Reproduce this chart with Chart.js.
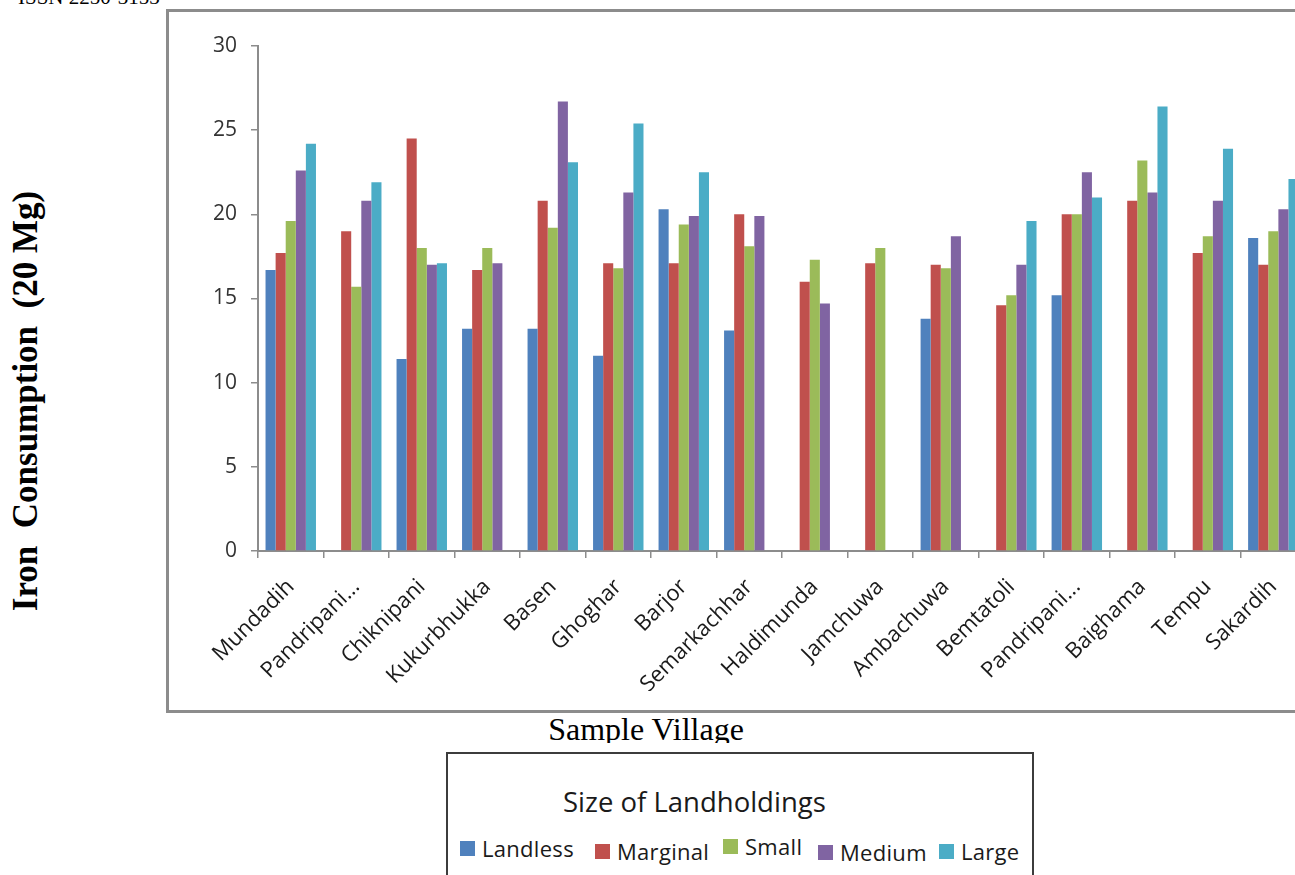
<!DOCTYPE html>
<html>
<head>
<meta charset="utf-8">
<script src="https://cdn.jsdelivr.net/npm/chart.js@4.4.1/dist/chart.umd.min.js"></script>
<style>
  html, body { margin: 0; padding: 0; background: #fff; }
  body { width: 1295px; height: 875px; overflow: hidden; position: relative; }
  #issn { position: absolute; left: 18px; top: -15px; font: 21px "Liberation Serif", serif; color: #000; }
  #frame { position: absolute; left: 166px; top: 9px; width: 1200px; height: 698px; border: 3px solid #8c8c8c; }
  #chartWrap { position: absolute; left: 170px; top: 16px; width: 1138px; height: 675px; }
  #yTitle { position: absolute; left: 26px; top: 401px; transform: translate(-50%, -50%) rotate(-90deg);
            font: bold 35px "Liberation Serif", serif; white-space: pre; color: #000; }
  #xTitle { position: absolute; left: 536px; top: 711px; width: 220px; height: 32px; overflow: hidden;
            font: 32px/36px "Liberation Serif", serif; color: #000; white-space: nowrap; text-align: center; }
  #legendBox { position: absolute; left: 446px; top: 752px; width: 584px; height: 200px; border: 2px solid #3c3c3c; }
  #legendTitle { position: absolute; left: 115px; top: 29px; white-space: nowrap;
                 font: 27.5px "Open Sans", sans-serif; color: #1a1a1a; }
  .item { position: absolute; display: flex; align-items: center; font: 22px "Open Sans", sans-serif;
          letter-spacing: 0.3px; color: #1a1a1a; white-space: nowrap; }
  .item span.sw { width: 15px; height: 15px; margin-right: 7px; display: inline-block; }
</style>
</head>
<body>
<div id="issn">ISSN 2250-3153</div>
<div id="frame"></div>
<div id="chartWrap"><canvas id="ironChart" width="1138" height="675"></canvas></div>
<div id="yTitle">Iron  Consumption  (20 Mg)</div>
<div id="xTitle">Sample Village</div>
<div id="legendBox"><div id="legendTitle">Size of Landholdings</div></div>

<script>
const villages = ['Mundadih', 'Pandripani...', 'Chiknipani', 'Kukurbhukka', 'Basen', 'Ghoghar', 'Barjor',
    'Semarkachhar', 'Haldimunda', 'Jamchuwa', 'Ambachuwa', 'Bemtatoli', 'Pandripani...', 'Baighama', 'Tempu', 'Sakardih'];

const seriesNames = ['Landless', 'Marginal', 'Small', 'Medium', 'Large'];
const seriesColors = ['#4F81BD', '#C0504D', '#9BBB59', '#8064A2', '#4BACC6'];

const landless = [16.7, null, 11.4, 13.2, 13.2, 11.6, 20.3, 13.1, null, null, 13.8, null, 15.2, null, null, 18.6];
const marginal = [17.7, 19.0, 24.5, 16.7, 20.8, 17.1, 17.1, 20.0, 16.0, 17.1, 17.0, 14.6, 20.0, 20.8, 17.7, 17.0];
const small    = [19.6, 15.7, 18.0, 18.0, 19.2, 16.8, 19.4, 18.1, 17.3, 18.0, 16.8, 15.2, 20.0, 23.2, 18.7, 19.0];
const medium   = [22.6, 20.8, 17.0, 17.1, 26.7, 21.3, 19.9, 19.9, 14.7, null, 18.7, 17.0, 22.5, 21.3, 20.8, 20.3];
const large    = [24.2, 21.9, 17.1, null, 23.1, 25.4, 22.5, null, null, null, null, 19.6, 21.0, 26.4, 23.9, 22.1];

const yTicks = [0, 5, 10, 15, 20, 25, 30];

const allSeries = [landless, marginal, small, medium, large];

// legend sits in its own box under the chart frame
const legendX = [12, 147, 275, 370, 491];
const legendDy = [0, 3, -2, 4, 3];
const legendBox = document.getElementById('legendBox');
seriesNames.forEach((name, i) => {
    const el = document.createElement('div');
    el.className = 'item';
    el.style.left = legendX[i] + 'px';
    el.style.top = (79 + legendDy[i]) + 'px';
    el.innerHTML = `<span class="sw" style="background:${seriesColors[i]}"></span>${name}`;
    legendBox.appendChild(el);
});

const axisGrey = '#8c8c8c';

new Chart(document.getElementById('ironChart'), {
    type: 'bar',
    data: {
        labels: villages,
        datasets: allSeries.map((values, i) => ({
            label: seriesNames[i],
            data: values,
            backgroundColor: seriesColors[i],
            borderWidth: 0,
            barPercentage: 1.0,
            categoryPercentage: 0.77
        }))
    },
    options: {
        responsive: false,
        animation: false,
        layout: { padding: { top: 30, left: 0, right: 0, bottom: 0 } },
        plugins: { legend: { display: false }, tooltip: { enabled: false } },
        scales: {
            x: {
                grid: { display: true, drawOnChartArea: false, drawTicks: true, tickLength: 7, color: axisGrey, lineWidth: 1.5 },
                border: { display: true, color: axisGrey, width: 2 },
                ticks: { minRotation: 45, maxRotation: 45, autoSkip: false, padding: 16, labelOffset: 0,
                         color: '#1a1a1a', font: { family: 'Open Sans', size: 22 } },
                afterFit: s => { s.height = 140; }
            },
            y: {
                min: 0, max: 30,
                afterBuildTicks: s => { s.ticks = yTicks.map(v => ({ value: v })); },
                grid: { display: true, drawOnChartArea: false, drawTicks: true, tickLength: 7, color: axisGrey, lineWidth: 1.5 },
                border: { display: true, color: axisGrey, width: 2 },
                ticks: { padding: 14, color: '#333', font: { family: 'Open Sans', size: 21 } },
                afterFit: s => { s.width = 88; }
            }
        }
    }
});
</script>
</body>
</html>
